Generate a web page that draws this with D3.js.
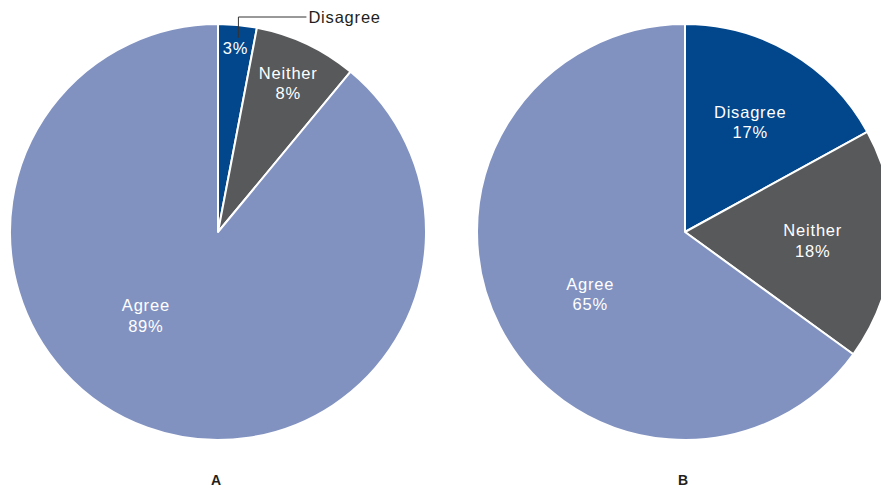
<!DOCTYPE html>
<html>
<head>
<meta charset="utf-8">
<script src="https://cdn.jsdelivr.net/npm/d3@7"></script>
<style>
  body { margin: 0; background: #fff; }
  svg { display: block; font-family: "Liberation Sans", Arial, sans-serif; }
</style>
</head>
<body>
<div id="chart"></div>
<script>
// data
var categories = ["Disagree", "Neither", "Agree"];
var valuesA = [3, 8, 89];
var valuesB = [17, 18, 65];
var panelLabels = ["A", "B"];
var colors = ["#02468c", "#58595b", "#8192c1"];

var width = 881, height = 489;
var radius = 208;
var fontSize = 16.5;

var svg = d3.select("#chart").append("svg")
    .attr("width", width)
    .attr("height", height);

// label placement per panel: radius and optional angle (degrees) per slice
var labelLayout = [
    [{r: 185}, {r: 165}, {r: 110, a: 221}],
    [{r: 128}, {r: 128}, {r: 113, a: 237}]
];
var centers = [[218, 232], [685, 232]];

var pie = d3.pie().sort(null).value(function(d){ return d.value; });
var arc = d3.arc().innerRadius(0).outerRadius(radius);

[valuesA, valuesB].forEach(function(vals, p){
    var rows = categories.map(function(c, i){ return {name: c, value: vals[i], idx: i}; });
    var g = svg.append("g")
        .attr("transform", "translate(" + centers[p][0] + "," + centers[p][1] + ")");

    var slices = g.selectAll("g.slice")
        .data(pie(rows))
        .enter()
        .append("g")
        .classed("slice", true);

    slices.append("path")
        .attr("d", arc)
        .attr("fill", function(d){ return colors[d.data.idx]; })
        .attr("stroke", "#fff")
        .attr("stroke-width", 2)
        .attr("stroke-linejoin", "round");

    slices.each(function(d, i){
        var lay = labelLayout[p][i];
        var ang = lay.a !== undefined ? lay.a * Math.PI / 180 : (d.startAngle + d.endAngle) / 2;
        var x = Math.sin(ang) * lay.r;
        var y = -Math.cos(ang) * lay.r;
        var t = d3.select(this).append("text")
            .attr("text-anchor", "middle")
            .attr("fill", "#fff")
            .attr("font-size", fontSize)
            .attr("letter-spacing", 0.8);
        var pct = d.data.value + "%";
        // tiny slice: name goes outside with leader line
        if (d.data.value < 5) {
            t.attr("x", x).attr("y", y + 6).text(pct);
            var lx = x + 3;
            var top = -radius - 7;
            g.append("path")
                .attr("d", "M" + lx + "," + (y - 10) + "V" + top + "H" + (lx + 68))
                .attr("fill", "none")
                .attr("stroke", "#333")
                .attr("stroke-width", 1);
            g.append("text")
                .attr("x", lx + 70)
                .attr("y", top + 6)
                .attr("font-size", fontSize)
                .attr("letter-spacing", 0.8)
                .attr("fill", "#231f20")
                .text(d.data.name);
        } else {
            t.append("tspan").attr("x", x).attr("y", y - 4).text(d.data.name);
            t.append("tspan").attr("x", x).attr("y", y + 16.5).text(pct);
        }
    });

    svg.append("text")
        .attr("x", centers[p][0] - 2)
        .attr("y", 485)
        .attr("text-anchor", "middle")
        .attr("font-size", 14)
        .attr("font-weight", "bold")
        .attr("fill", "#231f20")
        .text(panelLabels[p]);
});
</script>
</body>
</html>
